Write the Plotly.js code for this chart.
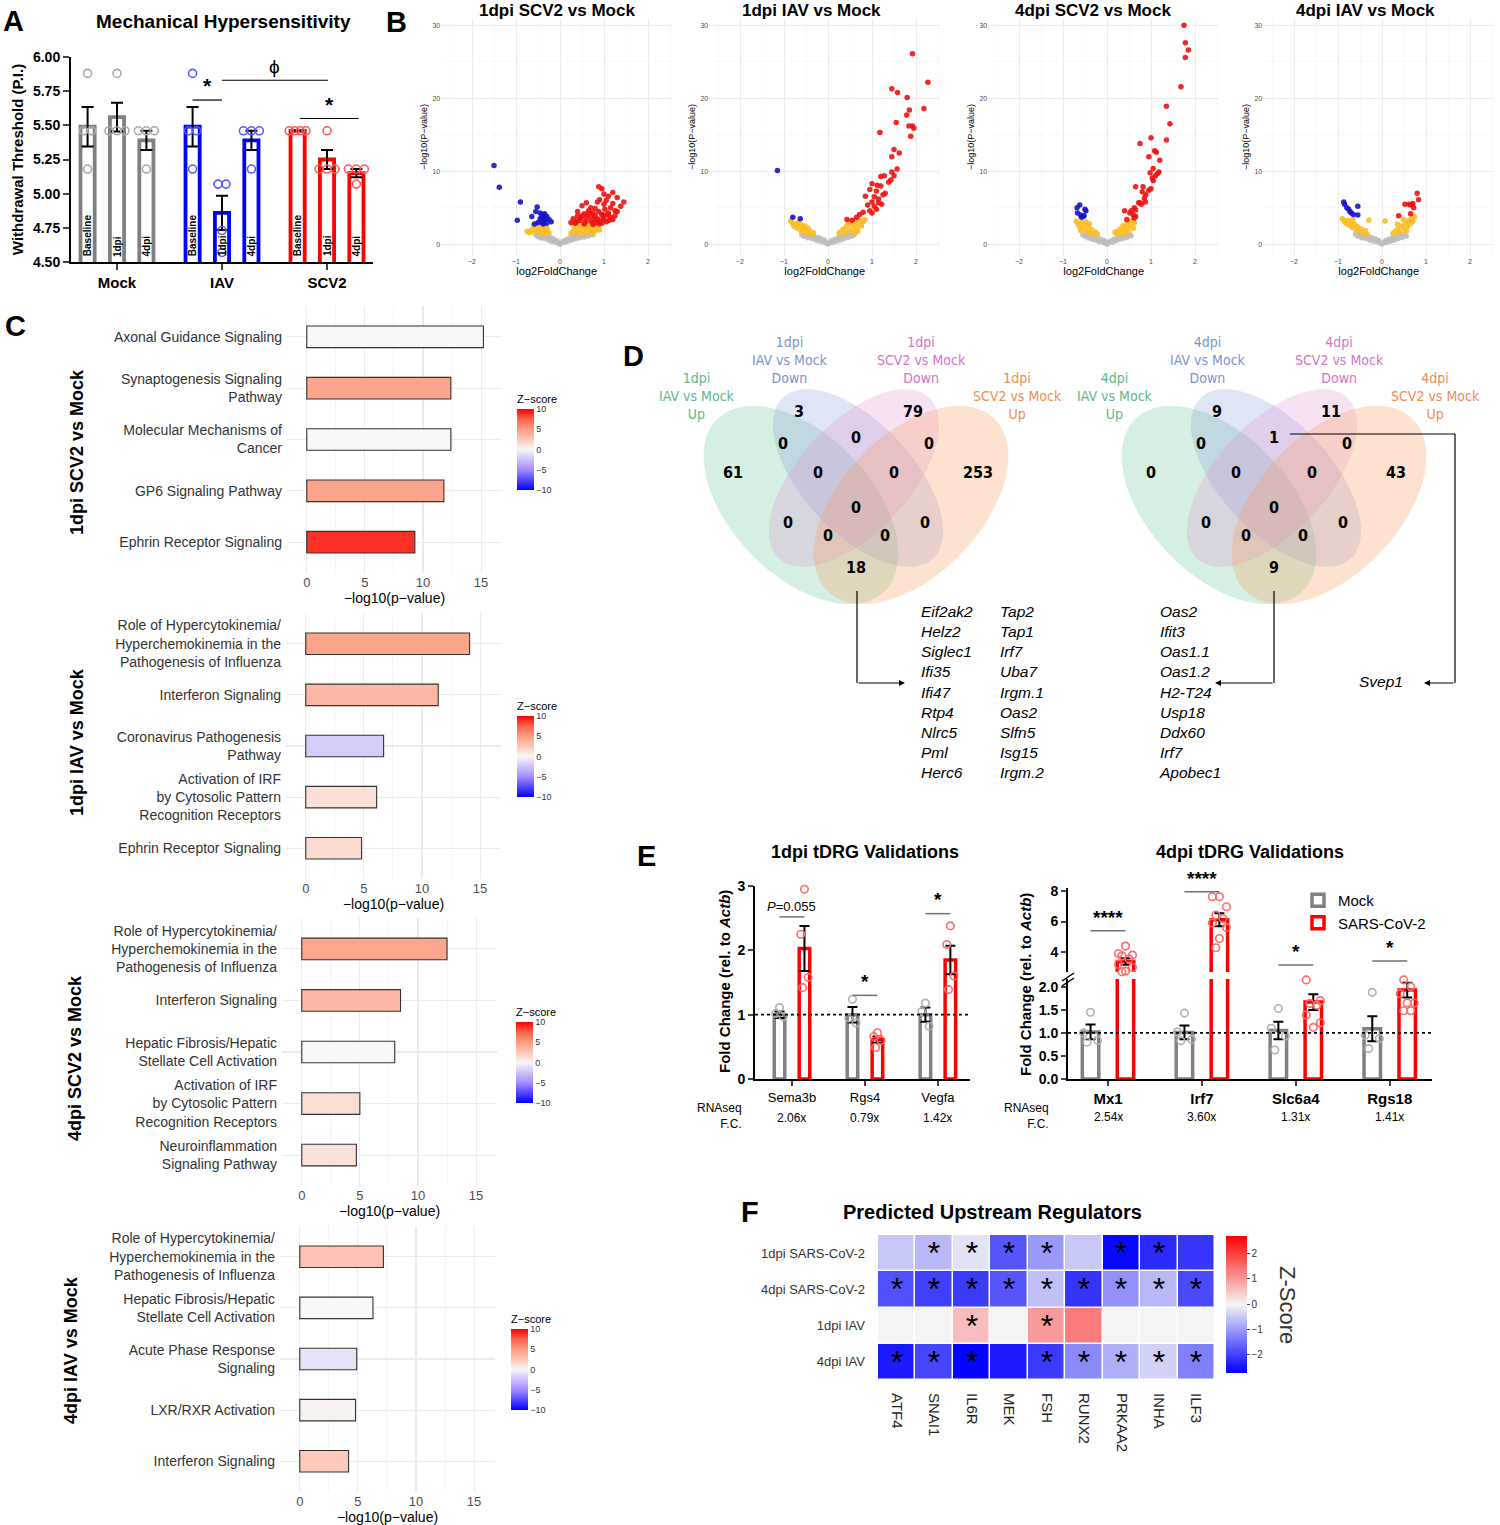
<!DOCTYPE html>
<html><head><meta charset="utf-8">
<script src="https://cdn.plot.ly/plotly-3.0.1.min.js"></script>
<style>html,body{margin:0;padding:0;background:#fff}</style>
</head><body><div id="chart" style="width:1500px;height:1525px"></div>
<script>
// ================= DATA =================
// Panel A
const groupsA = ['Mock','IAV','SCV2'];
const timepointsA = ['Baseline','1dpi','4dpi'];
const mockMean = [5.49,5.56,5.39], mockSem = [0.145,0.105,0.07];
const iavMean  = [5.49,4.86,5.39], iavSem  = [0.145,0.125,0.07];
const scv2Mean = [5.46,5.25,5.15], scv2Sem = [0,0.07,0.03];
const mockPts = [[5.88,5.46,5.46,5.18],[5.88,5.46,5.46,5.46],[5.46,5.46,5.46,5.18]];
const iavPts  = [[5.88,5.46,5.46,5.18],[5.07,5.07,4.73,4.57],[5.46,5.46,5.46,5.18]];
const scv2Pts = [[5.46,5.46,5.46,5.46],[5.46,5.18,5.18,5.18],[5.18,5.18,5.18,5.07]];

// Panel B (volcano plots) [log2FC, -log10 p]
const volcanoTitles = ['1dpi SCV2 vs Mock','1dpi IAV vs Mock','4dpi SCV2 vs Mock','4dpi IAV vs Mock'];
const v1Gray = [[-0.55,1.3],[-0.5,1.05],[-0.45,1.25],[-0.42,0.85],[-0.38,1.2],[-0.33,0.75],[-0.3,1.1],[-0.25,0.55],[-0.22,0.95],[-0.18,0.4],[-0.15,0.75],[-0.1,0.3],[-0.07,0.5],[-0.03,0.1],[0,0.05],[0.04,0.2],[0.08,0.45],[0.12,0.3],[0.16,0.7],[0.2,0.45],[0.24,0.95],[0.28,0.6],[0.32,1.15],[0.36,0.75],[0.4,1.25],[0.45,0.9],[0.5,1.3],[0.55,1.0],[0.6,1.35],[0.65,1.15],[0.7,1.4],[0.75,1.3],[-0.48,1.35],[-0.35,1.35],[0.38,1.4],[0.55,1.4],[-0.28,0.9],[0.3,0.85]];
const v1Orange = [[-0.75,1.8],[-0.7,1.6],[-0.65,2.0],[-0.6,1.7],[-0.55,2.3],[-0.5,1.9],[-0.45,2.5],[-0.4,2.1],[-0.35,2.4],[-0.3,1.9],[-0.25,1.6],[-0.6,2.6],[-0.5,2.7],[-0.4,2.8],[-0.3,2.2],[-0.45,1.6],[-0.35,1.5],[0.25,1.5],[0.3,1.8],[0.35,2.1],[0.4,1.7],[0.45,2.4],[0.5,2.0],[0.55,2.6],[0.6,1.9],[0.65,2.3],[0.7,2.1],[0.75,2.5],[0.8,1.9],[0.85,2.2],[0.9,2.0],[0.3,2.6],[0.4,2.9],[0.5,2.8],[0.6,2.7],[0.7,2.8],[0.8,2.6],[0.45,1.5],[0.55,1.6],[0.65,1.7],[0.75,1.6]];
const v1Red = [[0.88,7.9],[0.95,7.6],[1.0,6.9],[1.2,7.1],[1.1,6.6],[1.3,6.4],[1.45,5.8],[1.38,5.2],[0.9,6.1],[0.6,5.7],[0.5,5.3],[0.7,5.0],[0.8,4.9],[1.0,5.5],[1.15,5.0],[1.25,4.6],[0.4,4.5],[0.55,4.2],[0.75,4.3],[0.95,4.1],[1.1,4.3],[0.3,3.5],[0.45,3.3],[0.6,3.6],[0.7,3.2],[0.85,3.5],[1.0,3.4],[1.15,3.7],[0.35,2.9],[0.55,2.8],[0.75,2.7],[0.95,2.9],[1.05,3.1],[0.5,3.9],[0.65,4.6],[0.85,5.8],[1.05,6.0],[1.2,5.6],[0.25,3.0],[0.4,3.9],[0.8,3.9],[1.25,3.9],[0.62,4.0],[0.88,4.5],[1.02,4.8],[0.7,3.8],[0.9,3.2],[0.48,3.6],[1.12,3.3],[0.78,3.4],[0.58,3.1],[0.98,3.7],[0.38,3.2],[0.68,4.3],[1.3,4.5],[1.0,4.0],[0.82,3.0],[1.08,4.0],[0.9,2.8],[1.2,3.4]];
const v1Blue = [[-1.5,10.8],[-1.38,7.8],[-0.9,5.8],[-0.97,3.3],[-0.52,5.1],[-0.55,4.5],[-0.64,3.8],[-0.45,4.3],[-0.4,4.1],[-0.35,4.2],[-0.3,3.8],[-0.45,3.5],[-0.35,3.3],[-0.25,3.4],[-0.4,3.0],[-0.3,2.9],[-0.2,3.1],[-0.5,3.0],[-0.58,2.8],[-0.42,3.7],[-0.33,3.6],[-0.38,2.8]];
const v2Gray = [[-0.6,1.3],[-0.55,1.1],[-0.5,1.3],[-0.46,0.9],[-0.42,1.2],[-0.37,0.8],[-0.33,1.1],[-0.28,0.6],[-0.24,0.95],[-0.2,0.45],[-0.16,0.75],[-0.12,0.35],[-0.08,0.55],[-0.04,0.15],[0,0.05],[0.04,0.2],[0.08,0.5],[0.12,0.3],[0.16,0.7],[0.2,0.45],[0.24,0.9],[0.28,0.6],[0.32,1.1],[0.36,0.8],[0.4,1.25],[0.45,0.95],[0.5,1.3],[0.55,1.1],[0.6,1.35],[-0.5,1.4],[-0.38,1.35],[0.42,1.4],[-0.3,0.9],[0.3,0.95]];
const v2Orange = [[-0.85,3.2],[-0.8,2.9],[-0.78,2.5],[-0.72,2.8],[-0.7,2.2],[-0.65,2.6],[-0.62,1.9],[-0.58,2.3],[-0.55,1.7],[-0.5,2.1],[-0.47,1.5],[-0.42,1.8],[-0.38,1.4],[-0.33,1.6],[-0.68,3.0],[-0.52,2.5],[-0.6,2.7],[-0.45,2.2],[0.25,1.5],[0.3,1.8],[0.35,2.1],[0.4,1.6],[0.42,2.5],[0.48,2.0],[0.52,2.8],[0.55,1.7],[0.6,2.4],[0.62,3.0],[0.66,2.1],[0.7,2.8],[0.72,3.3],[0.76,2.5],[0.8,3.1],[0.84,3.4],[0.5,3.2],[0.58,1.5],[0.68,1.8],[0.45,2.9]];
const v2Red = [[1.92,26.1],[2.27,22.2],[1.45,21.3],[1.58,20.8],[1.8,20.1],[1.85,18.4],[2.18,18.6],[1.79,17.7],[1.55,16.7],[1.84,16.2],[1.92,16.2],[1.95,15.9],[1.88,14.8],[1.18,15.3],[1.5,13.0],[1.62,12.5],[1.45,12.0],[1.57,10.3],[1.45,9.9],[1.5,9.4],[1.43,8.8],[1.38,8.5],[1.2,9.3],[1.28,9.4],[1.0,8.3],[1.12,8.1],[1.2,8.0],[1.3,7.0],[1.25,6.8],[1.1,7.3],[1.05,6.5],[0.95,7.5],[1.0,5.8],[1.15,5.7],[1.22,5.5],[1.05,5.2],[0.9,5.4],[0.85,6.6],[1.1,4.8],[0.95,4.6],[1.0,4.3],[0.8,4.4],[0.72,4.1],[0.65,3.7],[0.55,3.3],[0.43,3.4],[1.15,6.2]];
const v2Blue = [[-1.15,10.1],[-0.8,3.7],[-0.63,3.5]];
const v3Gray = [[-0.55,1.3],[-0.5,1.1],[-0.46,1.3],[-0.42,0.85],[-0.38,1.15],[-0.34,0.7],[-0.3,1.05],[-0.26,0.55],[-0.22,0.9],[-0.18,0.4],[-0.14,0.7],[-0.1,0.3],[-0.06,0.5],[-0.03,0.12],[0.01,0.05],[0.04,0.25],[0.08,0.45],[0.12,0.3],[0.16,0.7],[0.2,0.5],[0.24,0.95],[0.28,0.65],[0.32,1.1],[0.36,0.8],[0.4,1.25],[0.45,0.95],[0.5,1.3],[0.55,1.15],[-0.48,1.4],[-0.36,1.35],[0.42,1.4],[-0.28,0.85],[0.3,0.9]];
const v3Orange = [[-0.7,3.2],[-0.66,2.8],[-0.62,2.4],[-0.58,3.0],[-0.55,2.1],[-0.5,2.6],[-0.46,1.8],[-0.42,2.3],[-0.38,1.6],[-0.34,2.0],[-0.3,1.5],[-0.26,1.7],[-0.22,1.4],[-0.6,1.9],[-0.48,3.1],[-0.4,2.8],[0.2,1.5],[0.25,1.8],[0.3,2.1],[0.33,1.6],[0.36,2.5],[0.4,2.0],[0.44,2.8],[0.48,2.3],[0.52,3.1],[0.55,2.6],[0.58,3.3],[0.62,2.9],[0.5,1.7],[0.42,1.5],[0.3,1.4],[0.6,2.2],[0.18,1.7]];
const v3Red = [[1.75,30.0],[1.78,27.6],[1.85,26.6],[1.78,25.6],[1.68,21.6],[1.35,18.9],[1.43,16.5],[1.0,14.6],[1.35,14.3],[0.75,13.8],[1.08,12.8],[1.12,12.6],[0.95,12.0],[1.2,11.5],[1.05,10.4],[0.98,9.8],[1.15,9.7],[1.18,9.9],[1.1,9.4],[1.03,9.1],[1.05,8.7],[0.65,7.9],[0.82,7.9],[1.0,7.6],[0.95,7.4],[0.8,7.2],[0.88,6.8],[0.85,6.3],[0.87,5.8],[0.75,5.7],[0.78,5.5],[0.72,5.7],[0.62,5.0],[0.55,4.6],[0.65,4.7],[0.4,4.6],[0.52,4.3],[0.6,4.0],[0.65,3.8],[0.45,3.4],[0.62,3.6]];
const v3Blue = [[-0.62,5.4],[-0.68,5.0],[-0.5,4.8],[-0.48,4.6],[-0.67,4.3],[-0.6,4.0],[-0.55,3.8],[-0.52,3.9],[-0.58,3.7]];
const v4Gray = [[-0.6,1.35],[-0.55,1.1],[-0.5,1.3],[-0.46,0.9],[-0.42,1.2],[-0.37,0.8],[-0.33,1.1],[-0.28,0.6],[-0.24,0.95],[-0.2,0.45],[-0.16,0.75],[-0.12,0.35],[-0.08,0.55],[-0.04,0.15],[0,0.05],[0.04,0.2],[0.08,0.5],[0.12,0.3],[0.16,0.7],[0.2,0.45],[0.24,0.9],[0.28,0.6],[0.32,1.1],[0.36,0.8],[0.4,1.25],[0.45,0.95],[0.5,1.3],[0.55,1.1],[-0.5,1.4],[-0.38,1.35],[0.42,1.4],[-0.3,0.9],[0.3,0.95]];
const v4Orange = [[-0.9,3.5],[-0.86,3.2],[-0.82,2.9],[-0.78,3.3],[-0.75,2.6],[-0.7,3.0],[-0.68,2.3],[-0.62,2.7],[-0.6,2.0],[-0.55,2.4],[-0.52,1.8],[-0.47,2.1],[-0.43,1.6],[-0.38,1.9],[-0.34,1.4],[-0.3,3.3],[-0.66,3.4],[0.07,3.2],[0.25,1.5],[0.3,1.8],[0.36,2.1],[0.4,1.6],[0.44,2.5],[0.5,2.1],[0.53,2.9],[0.58,2.4],[0.6,3.3],[0.64,2.8],[0.68,3.6],[0.7,3.1],[0.74,3.8],[0.48,3.4],[0.56,1.8],[0.35,2.8]];
const v4Red = [[0.8,7.0],[0.83,6.1],[0.52,5.5],[0.62,5.5],[0.7,5.6],[0.65,5.4],[0.72,5.0],[0.38,3.9],[0.65,4.2]];
const v4Blue = [[-0.87,5.8],[-0.85,5.5],[-0.8,5.0],[-0.76,4.8],[-0.73,4.5],[-0.7,4.3],[-0.65,4.1],[-0.55,5.2],[-0.55,4.0]];

// Panel C (pathways)
const cGroups = ['1dpi SCV2 vs Mock','1dpi IAV vs Mock','4dpi SCV2 vs Mock','4dpi IAV vs Mock'];
const cPath1 = ['Axonal Guidance Signaling','Synaptogenesis Signaling<br>Pathway','Molecular Mechanisms of<br>Cancer','GP6 Signaling Pathway','Ephrin Receptor Signaling'];
const cLogP1 = [15.2,12.4,12.4,11.8,9.3];
const cZ1 = [0,4.5,0,4.5,8.8];
const cPath2 = ['Role of Hypercytokinemia/<br>Hyperchemokinemia in the<br>Pathogenesis of Influenza','Interferon Signaling','Coronavirus Pathogenesis<br>Pathway','Activation of IRF<br>by Cytosolic Pattern<br>Recognition Receptors','Ephrin Receptor Signaling'];
const cLogP2 = [14.1,11.4,6.7,6.1,4.8];
const cZ2 = [4.5,3.4,-2.0,1.2,1.5];
const cPath3 = ['Role of Hypercytokinemia/<br>Hyperchemokinemia in the<br>Pathogenesis of Influenza','Interferon Signaling','Hepatic Fibrosis/Hepatic<br>Stellate Cell Activation','Activation of IRF<br>by Cytosolic Pattern<br>Recognition Receptors','Neuroinflammation<br>Signaling Pathway'];
const cLogP3 = [12.5,8.5,8.0,5.0,4.7];
const cZ3 = [4.4,3.3,0,1.3,1.1];
const cPath4 = ['Role of Hypercytokinemia/<br>Hyperchemokinemia in the<br>Pathogenesis of Influenza','Hepatic Fibrosis/Hepatic<br>Stellate Cell Activation','Acute Phase Response<br>Signaling','LXR/RXR Activation','Interferon Signaling'];
const cLogP4 = [7.2,6.3,4.9,4.8,4.2];
const cZ4 = [2.8,0,-0.9,0.3,2.3];

// Panel D (Venn)
const vennSets1 = ['1dpi<br>IAV vs Mock<br>Up','1dpi<br>IAV vs Mock<br>Down','1dpi<br>SCV2 vs Mock<br>Down','1dpi<br>SCV2 vs Mock<br>Up'];
const vennSets4 = ['4dpi<br>IAV vs Mock<br>Up','4dpi<br>IAV vs Mock<br>Down','4dpi<br>SCV2 vs Mock<br>Down','4dpi<br>SCV2 vs Mock<br>Up'];
// regions: B, C, A, D, AB, BC, CD, ABC, BCD, ABCD, AC, ACD, ABD, BD, AD
const venn1Counts = [3,79,61,253,0,0,0,0,0,0,0,0,0,0,18];
const venn4Counts = [9,11,0,43,0,1,0,0,0,0,0,0,0,0,9];
const genes1dpiShared = ['Eif2ak2','Helz2','Siglec1','Ifi35','Ifi47','Rtp4','Nlrc5','Pml','Herc6','Tap2','Tap1','Irf7','Uba7','Irgm.1','Oas2','Slfn5','Isg15','Irgm.2'];
const genes4dpiShared = ['Oas2','Ifit3','Oas1.1','Oas1.2','H2-T24','Usp18','Ddx60','Irf7','Apobec1'];
const genes4dpiDown = ['Svep1'];

// Panel E
const genesE1 = ['Sema3b','Rgs4','Vegfa'];
const mockE1Mean = [1.0,1.0,1.0], mockE1Sem = [0.05,0.12,0.11];
const sarsE1Mean = [2.03,0.61,1.85], sarsE1Sem = [0.35,0.05,0.22];
const mockE1Pts = [[1.11,1.02,0.97],[1.24,0.95,0.87],[1.18,1.05,0.82]];
const sarsE1Pts = [[2.95,2.25,1.58,1.42],[0.72,0.66,0.6,0.49],[2.38,2.09,1.6,1.39]];
const sigE1 = ['<i>P</i>=0.055','*','*'];
const rnaFcE1 = ['2.06x','0.79x','1.42x'];
const genesE2 = ['Mx1','Irf7','Slc6a4','Rgs18'];
const mockE2Mean = [1.02,1.01,1.05,1.09], mockE2Sem = [0.16,0.15,0.19,0.27];
const sarsE2Mean = [3.38,6.12,1.67,1.93], sarsE2Sem = [0.22,0.43,0.17,0.16];
const mockE2Pts = [[1.45,1.0,0.84,0.8],[1.43,1.02,0.86,0.83],[1.53,1.1,0.93,0.63],[1.88,0.95,0.88,0.66]];
const sarsE2Pts = [[4.39,3.9,3.8,3.75,3.55,3.2,3.0,2.75,2.7],[7.63,7.63,6.97,6.43,6.2,5.9,5.61,4.89,4.28],[2.28,2.15,1.7,1.64,1.6,1.39,1.22,1.12],[2.33,2.24,2.2,2.15,2.0,1.85,1.65,1.65,1.48,1.48]];
const sigE2 = ['****','****','*','*'];
const rnaFcE2 = ['2.54x','3.60x','1.31x','1.41x'];

// Panel F
const regulators = ['ATF4','SNAI1','IL6R','MEK','FSH','RUNX2','PRKAA2','INHA','ILF3'];
const comparisons = ['1dpi SARS-CoV-2','4dpi SARS-CoV-2','1dpi IAV','4dpi IAV'];
const zScoreF = [
  [-0.5,-0.67,-0.21,-1.76,-1.0,-0.5,-2.6,-2.24,-2.1],
  [-1.82,-2.0,-2.05,-1.75,-0.58,-2.13,-1.1,-0.67,-1.88],
  [0,0,0.63,0,1.0,1.33,0,0,0],
  [-2.41,-1.94,-2.64,-2.41,-2.05,-1.18,-0.76,-0.39,-1.29]];
const signifF = [
  [0,1,1,1,1,0,1,1,0],
  [1,1,1,1,1,1,1,1,1],
  [0,0,1,0,1,0,0,0,0],
  [1,1,1,0,1,1,1,1,1]];

// ================= LAYOUT HELPERS =================
const W=1500, H=1525;
const PX = x => x/W, PY = y => 1 - y/H;
const xd = (a,b) => [a/W, b/W];
const yd = (t,b) => [1-b/H, 1-t/H];
const FONT = 'Liberation Sans, Arial, Helvetica, sans-serif';
const NARROW = 'Liberation Sans Narrow, DejaVu Sans Condensed, Liberation Sans, sans-serif';
const traces = [], annotations = [], shapes = [];
const layout = {
  width: W, height: H, margin:{l:0,r:0,t:0,b:0},
  paper_bgcolor:'#fff', plot_bgcolor:'rgba(0,0,0,0)',
  font:{family:FONT, color:'#000', size:12},
  barmode:'overlay', hovermode:false, showlegend:true,
  legend:{x:PX(1298), y:PY(884), xanchor:'left', yanchor:'top', font:{size:15}, bgcolor:'rgba(0,0,0,0)', tracegroupgap:0},
  annotations, shapes
};
function ann(o){
  const f = Object.assign({family:FONT,size:12,color:'#000'}, o.font||{});
  annotations.push(Object.assign({showarrow:false, xref:'paper', yref:'paper', xanchor:'center', yanchor:'middle'}, o, {font:f}));
}
function spread(vals, step, span){
  const cnt={}, seen={};
  vals.forEach(v=>cnt[v]=(cnt[v]||0)+1);
  return vals.map(v=>{const n=cnt[v]; const k=(seen[v]=(seen[v]||0)+1)-1; const s=n>1?Math.min(step, span/(n-1)):0; return (k-(n-1)/2)*s;});
}
function jitter(n, s){ const pat=[0,-1,1,-0.5,0.5,-1,1,0,-0.5,0.5]; return Array.from({length:n},(_,i)=>pat[i%pat.length]*s); }

// panel letters
[['A',13,21],['B',396,22],['C',15,326],['D',633,356],['E',646,856],['F',750,1212]].forEach(l=>
  ann({x:PX(l[1]), y:PY(l[2]), text:'<b>'+l[0]+'</b>', font:{size:29}}));

// ================= PANEL A =================
const aOff = [-0.28,0,0.28];
const aSets = [[mockMean,mockSem,mockPts,'#808080','#a9a9a9'],[iavMean,iavSem,iavPts,'#0000ff','#5a5aff'],[scv2Mean,scv2Sem,scv2Pts,'#ff0000','#ff5a5a']];
aSets.forEach((s,g)=>{
  const xs = timepointsA.map((t,i)=>g+aOff[i]);
  traces.push({type:'bar', x:xs, y:s[0], width:0.135, xaxis:'x', yaxis:'y', showlegend:false,
    marker:{color:'#fff', line:{color:s[3], width:3.8}},
    error_y:{type:'data', array:s[1], color:'#000', thickness:2, width:6}});
  const px=[], py=[];
  s[2].forEach((vals,i)=>{ const o=spread(vals,0.076,0.16); vals.forEach((v,k)=>{px.push(xs[i]+o[k]); py.push(v);}); });
  traces.push({type:'scatter', mode:'markers', x:px, y:py, xaxis:'x', yaxis:'y', showlegend:false, cliponaxis:false,
    marker:{symbol:'circle-open', size:8, color:s[4], line:{width:1.6}}});
  timepointsA.forEach((t,i)=>ann({xref:'x', yref:'y', x:xs[i], y:4.525, text:'<b>'+t+'</b>', textangle:-90, yanchor:'bottom', xanchor:'center', font:{size:10}}));
});
layout.xaxis = {domain:xd(71,373), range:[-0.438,2.438], anchor:'y', tickvals:[0,1,2], ticktext:groupsA,
  showline:true, linewidth:2, linecolor:'#000', ticks:'outside', ticklen:6, tickwidth:2, showgrid:false, zeroline:false,
  tickfont:{size:15, weight:'bold'}};
layout.yaxis = {domain:yd(57,262), range:[4.5,6.0], anchor:'x', tickvals:[4.5,4.75,5,5.25,5.5,5.75,6], tickformat:'.2f',
  showline:true, linewidth:2, linecolor:'#000', ticks:'outside', ticklen:6, tickwidth:2, showgrid:false, zeroline:false,
  tickfont:{size:14, weight:'bold'}, title:{text:'<b>Withdrawal Threshold (P.I.)</b>', font:{size:15}, standoff:6}};
ann({x:PX(223), y:PY(22), text:'<b>Mechanical Hypersensitivity</b>', font:{size:19}});
shapes.push({type:'line', xref:'x', yref:'y', x0:1+aOff[0], x1:1, y0:5.685, y1:5.685, line:{color:'#000', width:1.2}});
ann({xref:'x', yref:'y', x:0.86, y:5.69, yanchor:'bottom', text:'<b>*</b>', font:{size:21}});
shapes.push({type:'line', xref:'x', yref:'y', x0:1, x1:2.01, y0:5.83, y1:5.83, line:{color:'#000', width:1.2}});
ann({xref:'x', yref:'y', x:1.5, y:5.84, yanchor:'bottom', text:'ϕ', font:{size:19}});
shapes.push({type:'line', xref:'x', yref:'y', x0:1.74, x1:2.3, y0:5.55, y1:5.55, line:{color:'#000', width:1.2}});
ann({xref:'x', yref:'y', x:2.02, y:5.555, yanchor:'bottom', text:'<b>*</b>', font:{size:21}});

// ================= PANEL B =================
const vSets = [[v1Gray,v1Orange,v1Red,v1Blue],[v2Gray,v2Orange,v2Red,v2Blue],[v3Gray,v3Orange,v3Red,v3Blue],[v4Gray,v4Orange,v4Red,v4Blue]];
const vColors = ['#bdbdbd','#fdbd22','#ee1111','#1515c8'];
const vZero = [560, 828, 1107, 1382];
const vTitleX = [557, 811, 1093, 1365];
vSets.forEach((set,i)=>{
  const n=i+2;
  set.forEach((pts,c)=>traces.push({type:'scatter', mode:'markers', x:pts.map(p=>p[0]), y:pts.map(p=>p[1]),
    xaxis:'x'+n, yaxis:'y'+n, showlegend:false, marker:{color:vColors[c], size:5.5, opacity:0.9}}));
  layout['xaxis'+n] = {domain:xd(vZero[i]-2.7*44, vZero[i]+2.55*44), range:[-2.7,2.55], anchor:'y'+n,
    tickvals:[-2,-1,0,1,2], showgrid:true, gridcolor:'#ebebeb', gridwidth:1,
    minor:{dtick:0.5, showgrid:true, gridcolor:'#f5f5f5', gridwidth:0.6},
    zeroline:false, showline:false, ticks:'', tickfont:{size:7, color:'#4d4d4d'},
    title:{text:'log2FoldChange', font:{size:11}, standoff:1}};
  layout['yaxis'+n] = {domain:yd(18,256), range:[-1.6,31], anchor:'x'+n,
    tickvals:[0,10,20,30], showgrid:true, gridcolor:'#ebebeb', gridwidth:1,
    minor:{dtick:5, showgrid:true, gridcolor:'#f5f5f5', gridwidth:0.6},
    zeroline:false, showline:false, ticks:'', tickfont:{size:7, color:'#4d4d4d'},
    title:{text:'−log10(P−value)', font:{size:9}, standoff:3}};
  ann({x:PX(vTitleX[i]), y:PY(10), text:'<b>'+volcanoTitles[i]+'</b>', font:{size:17}});
});

// ================= PANEL C =================
const zScale = [[0,'#0000ff'],[0.25,'#a58bff'],[0.5,'#f7f7f7'],[0.625,'#fdc7b7'],[0.75,'#fc9b81'],[0.875,'#f8644a'],[1,'#ff0000']];
const cSets = [[cPath1,cLogP1,cZ1],[cPath2,cLogP2,cZ2],[cPath3,cLogP3,cZ3],[cPath4,cLogP4,cZ4]];
const cXdom = [[287,502],[286,501],[282,497],[280,495]];
const cYdom = [[306,573],[613,879],[918,1186],[1226,1492]];
const cBarX = [517,517,516,511];
const cBarY = [441,748,1054,1361];
const cLabX = [77,77,75,71];
const cLabY = [452,742,1058,1350];
cSets.forEach((s,i)=>{
  const n=i+6;
  traces.push({type:'bar', orientation:'h', y:s[0], x:s[1], width:0.42, xaxis:'x'+n, yaxis:'y'+n, showlegend:false,
    marker:{color:s[2], colorscale:zScale, cmin:-10, cmax:10, line:{color:'#333', width:1.1}, showscale:true,
      colorbar:{x:PX(cBarX[i]), xanchor:'left', y:PY(cBarY[i]), yanchor:'middle', len:98, lenmode:'pixels',
        thickness:17, thicknessmode:'pixels', tickvals:[-10,-5,0,5,10], ticktext:['−10','−5','0','5','10'],
        tickfont:{size:9, color:'#333'}, ticks:'', outlinewidth:0, xpad:0, ypad:0,
        title:{text:'Z−score', side:'top', font:{size:11}}}}});
  layout['xaxis'+n] = {domain:xd(cXdom[i][0],cXdom[i][1]), range:[-1.7,16.8], anchor:'y'+n, tickvals:[0,5,10,15],
    showgrid:true, gridcolor:'#ebebeb', gridwidth:1.1, minor:{dtick:2.5, showgrid:true, gridcolor:'#f2f2f2', gridwidth:0.8},
    zeroline:false, showline:false, ticks:'', tickfont:{size:13, color:'#4d4d4d'},
    title:{text:'−log10(p−value)', font:{size:14}, standoff:2}};
  layout['yaxis'+n] = {domain:yd(cYdom[i][0],cYdom[i][1]), anchor:'x'+n, type:'category', categoryorder:'array', categoryarray:s[0],
    range:[4.6,-0.6], showgrid:true, gridcolor:'#ebebeb', gridwidth:1.1, ticks:'', zeroline:false,
    tickfont:{size:14, color:'#333'}, ticklabelstandoff:4};
  ann({x:PX(cLabX[i]), y:PY(cLabY[i]), text:'<b>'+cGroups[i]+'</b>', textangle:-90, font:{size:18}});
});

// ================= PANEL D =================
const regDX = [-57,57,-123,122,-73,0,73,-38,38,0,-68,-28,29,69,0];
const regDY = [-61,-61,0,0,-29,-35,-29,0,0,35,50,63,63,50,95];
const vennCx = [856,1274], vennCy = 474;
const setDX = [-159,-66,65,161], setDY = [396,360,360,396];
const setCol = ['#5cb98c','#7a93cf','#d474c6','#ef8c52'];
const fills = ['rgba(100,195,150,0.27)','rgba(130,150,215,0.25)','rgba(225,140,210,0.25)','rgba(250,160,100,0.3)'];
function ellipsePath(cx,cy,a,b,deg){
  const r=deg*Math.PI/180, ca=Math.cos(r), sa=Math.sin(r); let d='';
  for(let k=0;k<=90;k++){const t=k/90*2*Math.PI; const x=cx+a*Math.cos(t)*ca-b*Math.sin(t)*sa; const y=cy+a*Math.cos(t)*sa+b*Math.sin(t)*ca; d+=(k?'L':'M')+x.toFixed(2)+','+y.toFixed(2);}
  return d+'Z';
}
[[venn1Counts,vennSets1],[venn4Counts,vennSets4]].forEach((v,j)=>{
  const cx=vennCx[j];
  const ell = [[cx-55,505,120,70,46],[cx+2,478,110,55,47],[cx-2,478,110,55,-47],[cx+55,505,120,70,-46]];
  ell.forEach((e,k)=>shapes.push({type:'path', xref:'x10', yref:'y10', path:ellipsePath(...e), fillcolor:fills[k], line:{width:0}, layer:'below'}));
  traces.push({type:'scatter', mode:'text', x:regDX.map(d=>cx+d), y:regDY.map(d=>vennCy+d), text:v[0].map(String),
    xaxis:'x10', yaxis:'y10', showlegend:false, textfont:{size:16, family:NARROW, weight:'bold', color:'#000'}});
  v[1].forEach((t,k)=>ann({xref:'x10', yref:'y10', x:cx+setDX[k], y:setDY[k], text:t, font:{size:14, family:NARROW, color:setCol[k]}}));
});
layout.xaxis10 = {domain:xd(620,1500), range:[620,1500], visible:false, anchor:'y10'};
layout.yaxis10 = {domain:yd(330,800), range:[800,330], visible:false, anchor:'x10'};
const italicList = a => a.map(g=>'<i>'+g+'</i>').join('<br>');
ann({xref:'x10', yref:'y10', x:919, y:601, xanchor:'left', yanchor:'top', align:'left', text:italicList(genes1dpiShared.slice(0,9)), font:{size:15.5}});
ann({xref:'x10', yref:'y10', x:998, y:601, xanchor:'left', yanchor:'top', align:'left', text:italicList(genes1dpiShared.slice(9)), font:{size:15.5}});
ann({xref:'x10', yref:'y10', x:1157, y:601, xanchor:'left', yanchor:'top', align:'left', text:italicList(genes4dpiShared), font:{size:15.5}});
ann({xref:'x10', yref:'y10', x:1381, y:681, text:italicList(genes4dpiDown), font:{size:15.5}});
const ln = (x0,y0,x1,y1)=>shapes.push({type:'line', xref:'x10', yref:'y10', x0, y0, x1, y1, line:{color:'#000', width:1.2}});
const arrow = (x,y,ax,ay)=>annotations.push({xref:'x10', yref:'y10', axref:'x10', ayref:'y10', x, y, ax, ay, text:'', showarrow:true, arrowhead:2, arrowsize:1, arrowwidth:1.2, arrowcolor:'#000'});
ln(857,591,857,683); arrow(905,683,857,683);
ln(1274,591,1274,683); arrow(1215,683,1274,683);
ln(1290,434,1455,434); ln(1455,434,1455,683); arrow(1424,683,1455,683);

// ================= PANEL E =================
const axisStyle = {showline:true, linewidth:2, linecolor:'#000', ticks:'outside', ticklen:5, tickwidth:2, showgrid:false, zeroline:false};
// E1
const e1Off = [-0.171,0.171];
[[mockE1Mean,mockE1Sem,mockE1Pts,'#808080','#b0b0b0'],[sarsE1Mean,sarsE1Sem,sarsE1Pts,'#ff0000','#ff6b6b']].forEach((s,k)=>{
  traces.push({type:'bar', x:genesE1.map((g,i)=>i+e1Off[k]), y:s[0], width:0.144, xaxis:'x11', yaxis:'y11', showlegend:false,
    marker:{color:'#fff', line:{color:s[3], width:3.5}}, error_y:{type:'data', array:s[1], color:'#000', thickness:2, width:5}});
  const px=[], py=[];
  s[2].forEach((vals,i)=>{const o=jitter(vals.length,0.05); vals.forEach((v,m)=>{px.push(i+e1Off[k]+o[m]); py.push(v);});});
  traces.push({type:'scatter', mode:'markers', x:px, y:py, xaxis:'x11', yaxis:'y11', showlegend:false, cliponaxis:false,
    marker:{symbol:'circle-open', size:7.5, color:s[4], line:{width:1.6}}});
});
layout.xaxis11 = Object.assign({domain:xd(755,970), range:[-0.507,2.44], anchor:'y11', tickvals:[0,1,2], ticktext:genesE1, tickfont:{size:13}}, axisStyle);
layout.yaxis11 = Object.assign({domain:yd(886,1079), range:[0,3], anchor:'x11', tickvals:[0,1,2,3], tickfont:{size:14, weight:'bold'}}, axisStyle);
shapes.push({type:'line', xref:'x11', yref:'y11', x0:-0.507, x1:2.44, y0:1, y1:1, line:{color:'#000', width:1.6, dash:'dot'}});
const e1BracketY = [2.52,1.3,2.57];
sigE1.forEach((t,i)=>{
  shapes.push({type:'line', xref:'x11', yref:'y11', x0:i+e1Off[0], x1:i+e1Off[1], y0:e1BracketY[i], y1:e1BracketY[i], line:{color:'#707070', width:1.5}});
  ann({xref:'x11', yref:'y11', x:i, y:e1BracketY[i]+0.02, yanchor:'bottom', text:t.length>2?t:'<b>'+t+'</b>', font:{size:t.length>2?13:19}});
  ann({xref:'x11', x:i, y:PY(1118), text:rnaFcE1[i], font:{size:12}});
});
ann({x:PX(744), y:PY(1116), xanchor:'right', align:'right', text:'RNAseq<br>F.C.', font:{size:12}});
ann({x:PX(724), y:PY(982), textangle:-90, text:'<b>Fold Change (rel. to <i>Actb</i>)</b>', font:{size:15}});
ann({x:PX(865), y:PY(852), text:'<b>1dpi tDRG Validations</b>', font:{size:18}});
// E2 (broken y axis)
const e2Off = [-0.186,0.186];
const brokenAt = 2.5;
traces.push({type:'bar', name:'Mock', x:genesE2.map((g,i)=>i+e2Off[0]), y:mockE2Mean, width:0.175, xaxis:'x12', yaxis:'y12', showlegend:true,
  marker:{color:'#fff', line:{color:'#808080', width:3.5}}, error_y:{type:'data', array:mockE2Sem, color:'#000', thickness:2, width:5}});
['y12','y13'].forEach((ya,k)=>traces.push({type:'bar', name:'SARS-CoV-2', x:genesE2.map((g,i)=>i+e2Off[1]), y:sarsE2Mean, width:0.175,
  xaxis:'x12', yaxis:ya, showlegend:k===0, marker:{color:'#fff', line:{color:'#ff0000', width:3.5}},
  error_y:{type:'data', array:sarsE2Sem, color:'#000', thickness:2, width:5}}));
[[mockE2Pts,mockE2Mean,0,'#b0b0b0'],[sarsE2Pts,sarsE2Mean,1,'#ff6b6b']].forEach(s=>{
  s[0].forEach((vals,i)=>{
    const o=jitter(vals.length,0.075);
    traces.push({type:'scatter', mode:'markers', x:vals.map((v,m)=>i+e2Off[s[2]]+o[m]), y:vals, xaxis:'x12',
      yaxis: s[1][i]>brokenAt?'y13':'y12', showlegend:false, cliponaxis:false,
      marker:{symbol:'circle-open', size:7.5, color:s[3], line:{width:1.6}}});
  });
});
layout.xaxis12 = Object.assign({domain:xd(1068,1432), range:[-0.426,3.45], anchor:'y12', tickvals:[0,1,2,3], ticktext:genesE2, tickfont:{size:15, weight:'bold'}}, axisStyle);
layout.yaxis12 = Object.assign({domain:yd(979,1079), range:[0,2.17], anchor:'x12', tickvals:[0,0.5,1,1.5,2], tickformat:'.1f', tickfont:{size:14, weight:'bold'}}, axisStyle);
layout.yaxis13 = Object.assign({domain:yd(888,972), range:[2.69,8.2], anchor:'x12', tickvals:[4,6,8], tickfont:{size:14, weight:'bold'}}, axisStyle);
shapes.push({type:'line', xref:'x12', yref:'y12', x0:-0.426, x1:3.45, y0:1, y1:1, line:{color:'#000', width:1.6, dash:'dot'}});
shapes.push({type:'line', xref:'paper', yref:'paper', x0:PX(1062), y0:PY(981), x1:PX(1074), y1:PY(973), line:{color:'#000', width:1.5}});
shapes.push({type:'line', xref:'paper', yref:'paper', x0:PX(1062), y0:PY(986), x1:PX(1074), y1:PY(978), line:{color:'#000', width:1.5}});
const e2BracketY = [5.4,7.95,3.15,3.41];
sigE2.forEach((t,i)=>{
  shapes.push({type:'line', xref:'x12', yref:'y13', x0:i+e2Off[0], x1:i+e2Off[1], y0:e2BracketY[i], y1:e2BracketY[i], line:{color:'#707070', width:1.5}});
  ann({xref:'x12', yref:'y13', x:i, y:e2BracketY[i]+0.05, yanchor:'bottom', text:'<b>'+t+'</b>', font:{size:19}});
  ann({xref:'x12', x:i, y:PY(1117), text:rnaFcE2[i], font:{size:12}});
});
ann({x:PX(1051), y:PY(1116), xanchor:'right', align:'right', text:'RNAseq<br>F.C.', font:{size:12}});
ann({x:PX(1026), y:PY(985), textangle:-90, text:'<b>Fold Change (rel. to <i>Actb</i>)</b>', font:{size:15}});
ann({x:PX(1250), y:PY(852), text:'<b>4dpi tDRG Validations</b>', font:{size:18}});

// ================= PANEL F =================
traces.push({type:'heatmap', z:zScoreF, x:regulators, y:comparisons, xaxis:'x14', yaxis:'y14',
  colorscale:[[0,'#0000ff'],[0.5,'#f5f5f5'],[1,'#ff0000']], zmin:-2.7, zmax:2.7, xgap:1.5, ygap:1.5,
  text:signifF.map(r=>r.map(s=>s?'*':'')), texttemplate:'%{text}', textfont:{size:32, color:'#000', family:FONT},
  colorbar:{x:PX(1226), xanchor:'left', y:PY(1304), yanchor:'middle', len:137, lenmode:'pixels', thickness:21, thicknessmode:'pixels',
    tickvals:[-2,-1,0,1,2], ticks:'outside', ticklen:3, tickfont:{size:10, color:'#333'}, outlinewidth:0, xpad:0, ypad:0}});
layout.xaxis14 = {domain:xd(878,1215), anchor:'y14', tickangle:90, tickfont:{size:15, color:'#222'}, ticks:'', showgrid:false, zeroline:false, ticklabelstandoff:12};
layout.yaxis14 = {domain:yd(1235,1380), anchor:'x14', autorange:'reversed', tickfont:{size:13, color:'#333'}, ticks:'', showgrid:false, zeroline:false, ticklabelstandoff:12};
ann({x:PX(1288), y:PY(1305), textangle:90, text:'Z-Score', font:{size:22, color:'#333'}});
ann({x:PX(992), y:PY(1212), text:'<b>Predicted Upstream Regulators</b>', font:{size:20}});

Plotly.newPlot('chart', traces, layout, {staticPlot:true});
</script></body></html>
